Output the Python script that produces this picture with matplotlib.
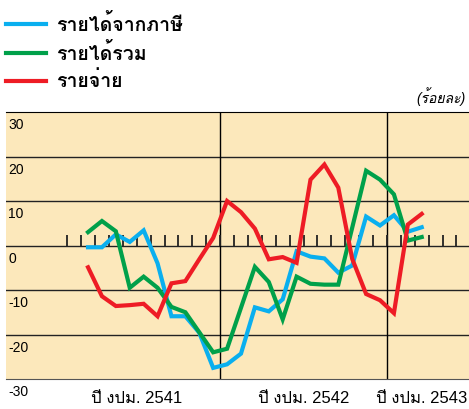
import matplotlib
matplotlib.use('Agg')
import matplotlib.pyplot as plt
from matplotlib import font_manager
from fontTools.ttLib import TTFont

# monthly growth (%), Dec 2540 .. Dec 2542; month 0 = Oct 2541 (start of FY 2542)
months = list(range(-10, 15))
tax_revenue = [-0.4, -0.4, 2.5, 0.8, 3.4, -4.0, -15.9, -15.9, -19.6, -27.5, -26.7, -24.3, -13.9,
               -14.8, -12.1, -1.3, -2.5, -2.9, -6.1, -4.5, 6.5, 4.5, 6.8, 3.1, 4.1]
total_revenue = [3.0, 5.5, 3.2, -9.5, -7.0, -9.5, -13.8, -15.0, -19.5, -24.0, -23.2, -14.0, -4.8,
                 -8.2, -16.6, -7.0, -8.6, -8.8, -8.8, 4.0, 16.8, 14.8, 11.5, 1.1, 1.9]
expenditure = [-4.9, -11.4, -13.6, -13.4, -13.1, -15.9, -8.5, -8.0, -3.1, 1.7, 10.0, 7.5, 3.8,
               -3.1, -2.6, -3.9, 14.8, 18.2, 13.0, -3.0, -10.9, -12.3, -15.2, 4.7, 7.1]
series_names = ['รายได้จากภาษี', 'รายได้รวม', 'รายจ่าย']
year_labels = ['ปี งปม. 2541', 'ปี งปม. 2542', 'ปี งปม. 2543']
year_starts = [0, 12]
y_ticks = [30, 20, 10, 0, -10, -20, -30]
tick_months = list(range(-11, 18))


def find_thai():
    # first installed font that has Thai glyphs (Loma in the sandbox)
    for f in font_manager.fontManager.ttflist:
        try:
            cmap = TTFont(f.fname, fontNumber=0, lazy=True).getBestCmap()
            if cmap and 0x0E23 in cmap and 0x0E32 in cmap:
                return [f.name]
        except Exception:
            pass
    return []


thai = find_thai()
plt.rcParams['font.family'] = ['Liberation Sans'] + thai + ['DejaVu Sans']

fig = plt.figure(figsize=(4.69, 4.09), dpi=100)
ax = fig.add_axes([6 / 469, 1 - 379 / 409, 1 - 6 / 469, (379 - 112) / 409])
ax.set_facecolor('#FCE8BB')
ax.set_xlim(-15.4, 17.9)
ax.set_ylim(-30, 30)

for v in [-20, -10, 0, 10, 20]:
    ax.axhline(v, color='#222222', lw=1.0, zorder=1)
for m in year_starts:
    ax.axvline(m, color='black', lw=1.0, zorder=1)
ax.vlines(tick_months, 0, 2.4, color='#222222', lw=1.3, zorder=1)

x = [m + 0.5 for m in months]
colors = ['#0AAFEF', '#00A04A', '#EE1C25']
for vals, c, name in zip([tax_revenue, total_revenue, expenditure], colors, series_names):
    ax.plot(x, vals, color=c, lw=3.0, label=name, zorder=3, solid_joinstyle='miter')

for side in ['left', 'right']:
    ax.spines[side].set_visible(False)
ax.spines['top'].set_color('black')
ax.spines['bottom'].set_color('#555555')
ax.set_xticks([])
ax.set_yticks([])

for v in y_ticks:
    ax.annotate(str(v), xy=(0, v), xycoords=('axes fraction', 'data'), xytext=(1.5, -4.5),
                textcoords='offset points', va='top', ha='left', fontsize=10, annotation_clip=False)

ax.text(-6, -32.6, year_labels[0], ha='center', va='top', fontsize=12)
ax.text(6, -32.6, year_labels[1], ha='center', va='top', fontsize=12)
ax.text(11.2, -32.6, year_labels[2], ha='left', va='top', fontsize=12)

fig.text(466 / 469, 1 - 97 / 409, '(ร้อยละ)', ha='right', va='center', fontsize=10, style='italic')

fig.legend(loc='upper left', bbox_to_anchor=(6 / 469, 1 - 14 / 409), frameon=False,
           prop={'weight': 'bold', 'size': 14}, handlelength=2.05, handletextpad=0.5,
           labelspacing=0.4, borderpad=0, borderaxespad=0)

fig.savefig('out.png', dpi=100)
